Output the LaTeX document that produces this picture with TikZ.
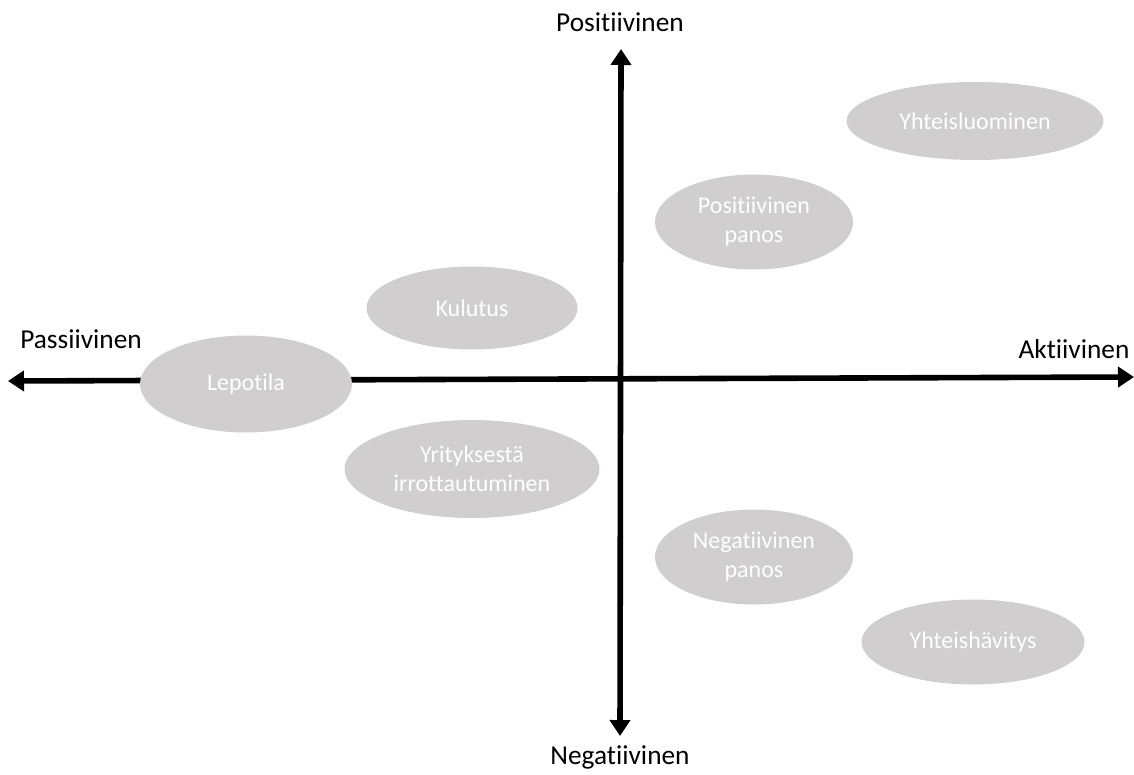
\documentclass[tikz,border=0pt]{standalone}
\usepackage{fontspec}
\setmainfont{Carlito}[Ligatures=NoCommon]
\usetikzlibrary{arrows.meta,shapes.geometric}
\definecolor{ellfill}{HTML}{D0CECE}
\tikzset{
  axisline/.style={line width=4.2pt,{Triangle[length=12pt,width=15pt]}-{Triangle[length=12pt,width=15pt]}},
  blob/.style={ellipse,fill=ellfill,draw=none,text=white,align=center,font=\fontsize{18}{22}\selectfont,inner sep=0pt},
  axlabel/.style={text=black,font=\fontsize{20.5}{24}\selectfont,inner sep=0pt}
}
\begin{document}
\begin{tikzpicture}[x=0.75pt,y=-0.75pt]
\useasboundingbox (0,0) rectangle (1134,774);
\coordinate (L) at (8,381);
\coordinate (R) at (1134,377);
\coordinate (T) at (621,49);
\coordinate (B) at (620,736);
\draw[axisline] (L) -- (R);
\draw[axisline] (B) -- (T);
\node[axlabel] (pos) at (620,22) {Positiivinen};
\node[axlabel] (neg) at (620,757) {Negatiivinen};
\node[axlabel] (pas) at (81,339) {Passiivinen};
\node[axlabel] (akt) at (1074,349) {Aktiivinen};
\node[blob,minimum width=257*0.75pt,minimum height=78*0.75pt] (yl) at (975,121) {Yhteisluominen};
\node[blob,minimum width=198*0.75pt,minimum height=95*0.75pt] (pp) at (754,222) {Positiivinen\\panos};
\node[blob,minimum width=211*0.75pt,minimum height=83*0.75pt] (ku) at (472,308) {Kulutus};
\node[blob,minimum width=212*0.75pt,minimum height=97*0.75pt] (le) at (246,384) {Lepotila};
\node[blob,minimum width=255*0.75pt,minimum height=98*0.75pt] (yi) at (472,469) {Yrityksestä\\irrottautuminen};
\node[blob,minimum width=198*0.75pt,minimum height=95*0.75pt] (np) at (754,557) {Negatiivinen\\panos};
\node[blob,minimum width=223*0.75pt,minimum height=85*0.75pt] (yh) at (973,642) {Yhteishävitys};
\end{tikzpicture}
\end{document}
